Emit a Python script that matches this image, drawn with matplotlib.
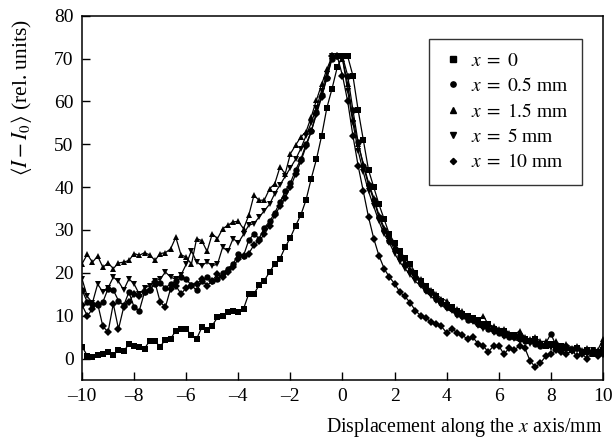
import numpy as np
import matplotlib
matplotlib.use("Agg")
import matplotlib.pyplot as plt

plt.rcParams['font.family'] = ['Liberation Serif', 'DejaVu Serif']
plt.rcParams['mathtext.fontset'] = 'stix'

# displacement grid, -10 .. 10 mm in 0.2 mm steps
disp = np.round(np.arange(-10, 10.0001, 0.2), 1)

# x = 0 (squares)
y_0 = [2.8, 0.7, 0.3, 0.9, 1.1, 1.5, 0.9, 1.9, 1.7, 3.4,
       2.9, 2.6, 2.3, 4.2, 4.0, 2.8, 4.4, 4.6, 6.5, 6.8,
       6.9, 5.4, 4.6, 7.3, 6.7, 7.7, 9.6, 10.0, 10.8, 11.2,
       10.8, 11.6, 15.1, 15.1, 17.1, 18.2, 20.2, 22.1, 23.3, 26.0,
       28.2, 31.0, 33.5, 37.0, 42.0, 46.5, 52.0, 58.5, 63.0, 68.0,
       70.5, 70.5, 66.0, 58.0, 51.0, 44.0, 40.0, 36.0, 32.5, 29.0,
       27.0, 25.0, 23.5, 22.0, 20.0, 18.0, 17.0, 15.5, 14.5, 13.5,
       12.5, 12.0, 11.0, 10.5, 10.0, 9.5, 9.0, 8.0, 8.0, 7.0,
       6.5, 6.5, 5.5, 5.5, 5.0, 4.5, 4.0, 4.5, 3.5, 3.0,
       3.5, 2.5, 3.0, 2.5, 2.0, 2.5, 1.5, 2.0, 1.0, 1.5,
       2.0]

# x = 0.5 mm (circles)
y_05 = [16.0, 13.2, 12.8, 12.4, 13.2, 16.3, 16.0, 13.5, 12.4, 15.5,
        12.0, 11.2, 15.5, 16.0, 17.4, 17.6, 16.5, 17.4, 18.0, 19.0,
        18.5, 17.1, 15.9, 18.0, 19.0, 18.2, 18.5, 20.0, 21.0, 22.0,
        24.5, 24.0, 27.6, 29.1, 28.0, 30.5, 32.0, 34.0, 36.5, 39.0,
        41.0, 44.0, 46.5, 50.0, 53.0, 57.5, 61.5, 65.5, 70.0, 70.5,
        70.5, 66.0, 58.0, 50.5, 45.0, 40.5, 37.0, 33.0, 30.0, 27.5,
        25.5, 24.0, 22.0, 20.5, 19.0, 17.5, 16.0, 15.5, 14.0, 13.0,
        12.0, 11.5, 10.5, 10.0, 9.0, 9.0, 8.0, 7.5, 7.0, 6.5,
        6.0, 5.5, 5.0, 5.0, 4.5, 4.0, 4.0, 3.5, 3.0, 3.5,
        5.8, 3.0, 2.5, 2.5, 2.0, 2.5, 1.5, 1.5, 2.0, 1.0,
        3.5]

# x = 1.5 mm (triangles up)
y_15 = [22.1, 24.3, 22.5, 23.9, 21.3, 22.3, 21.0, 22.3, 22.5, 22.9,
        24.5, 24.1, 24.7, 24.2, 22.9, 24.5, 24.7, 25.6, 28.3, 24.2,
        23.7, 22.0, 28.0, 27.5, 25.0, 29.1, 28.0, 30.3, 31.1, 31.9,
        32.0, 30.3, 33.4, 38.1, 36.9, 37.0, 39.6, 40.8, 44.7, 43.1,
        47.8, 49.8, 51.7, 52.9, 56.4, 60.3, 64.0, 67.5, 70.5, 70.5,
        70.0, 64.0, 56.0, 50.0, 45.5, 41.0, 37.5, 33.5, 30.5, 28.5,
        26.0, 24.0, 22.5, 21.0, 19.5, 18.5, 17.0, 16.0, 15.0, 14.0,
        13.5, 12.0, 11.5, 11.0, 10.0, 9.5, 8.5, 10.0, 8.0, 7.5,
        7.0, 7.0, 6.0, 5.5, 6.5, 5.0, 4.5, 5.0, 4.0, 4.0,
        3.5, 4.0, 3.0, 3.5, 2.5, 3.0, 2.0, 2.5, 1.5, 2.0,
        4.5]

# x = 5 mm (triangles down)
y_5 = [18.6, 14.5, 13.0, 17.4, 15.5, 16.5, 19.0, 18.0, 16.0, 18.6,
       17.4, 15.0, 16.5, 17.0, 18.2, 18.5, 20.2, 19.0, 18.5, 19.5,
       22.0, 25.2, 22.5, 21.7, 22.5, 21.7, 22.0, 26.0, 25.0, 28.0,
       27.0, 29.0, 31.1, 31.5, 33.0, 34.5, 36.0, 38.5, 40.5, 42.5,
       44.5, 46.5, 49.0, 52.0, 55.0, 58.5, 62.5, 66.5, 70.5, 70.5,
       70.0, 62.5, 55.0, 48.5, 43.5, 39.0, 35.5, 32.0, 29.0, 27.0,
       24.5, 22.5, 21.0, 19.5, 18.0, 17.0, 15.5, 14.5, 13.5, 12.5,
       11.5, 11.0, 10.0, 9.5, 9.0, 8.5, 7.5, 7.0, 7.0, 6.0,
       6.0, 5.0, 5.0, 4.5, 4.0, 4.5, 3.5, 3.5, 3.0, 3.0,
       2.5, 3.0, 2.0, 2.5, 1.5, 2.0, 1.5, 1.0, 2.0, 0.5,
       1.5]

# x = 10 mm (diamonds)
y_10 = [12.5, 10.0, 11.5, 12.8, 7.5, 6.2, 12.8, 6.9, 12.0, 13.2,
        15.1, 14.5, 15.5, 16.0, 17.8, 13.2, 12.0, 16.3, 17.0, 15.1,
        16.5, 17.0, 17.5, 18.5, 17.0, 18.2, 19.7, 19.0, 20.2, 21.3,
        23.3, 24.0, 24.5, 26.5, 27.5, 29.0, 31.0, 33.5, 35.5, 37.5,
        40.0, 43.0, 46.0, 49.5, 53.0, 57.0, 61.0, 65.5, 70.5, 70.5,
        66.0, 60.0, 52.0, 45.0, 39.0, 33.0, 28.0, 24.0, 21.0, 19.0,
        17.5, 15.5, 14.5, 13.0, 11.2, 10.0, 9.5, 8.5, 8.0, 7.5,
        6.0, 7.0, 6.0, 5.5, 4.5, 5.0, 3.5, 3.0, 1.5, 3.0,
        3.0, 1.0, 2.5, 2.0, 3.0, 2.5, -0.5, -2.0, -1.0, 0.5,
        1.0, 2.0, 1.5, 1.0, 2.0, 0.5, 1.0, 0.0, 1.5, 0.5,
        1.0]

series = [(y_0, 's', r'$x\;=\;0$'),
          (y_05, 'o', r'$x\;=\;0.5$ mm'),
          (y_15, '^', r'$x\;=\;1.5$ mm'),
          (y_5, 'v', r'$x\;=\;5$ mm'),
          (y_10, 'D', r'$x\;=\;10$ mm')]

fig = plt.figure(figsize=(6.14, 4.43), dpi=100)
ax = fig.add_axes([0.1336, 0.1422, 0.8484, 0.8224])

handles = []
for ys, mk, lab in series:
    ms = 3.9 if mk == 'D' else 4.6
    ax.plot(disp, ys, color='black', lw=0.9, marker=mk, ms=ms,
            markeredgewidth=0, zorder=2)
    h, = ax.plot([], [], ls='none', marker=mk, color='black',
                 ms=3.8 if mk != 'D' else 3.2, label=lab)
    handles.append(h)

ax.set_xlim(-10, 10)
ax.set_ylim(-5, 80)
ax.set_xticks(np.arange(-10, 11, 2))
ax.set_yticks(np.arange(0, 81, 10))
ax.set_xticklabels(['\u201310', '\u20138', '\u20136', '\u20134', '\u20132',
                    '0', '2', '4', '6', '8', '10'])
ax.tick_params(direction='in', length=6, width=1, labelsize=14,
               top=False, right=False, pad=6)
for s in ax.spines.values():
    s.set_linewidth(1.1)

ax.set_ylabel(r'$\langle I - I_0\rangle$ (rel. units)', fontsize=15.5, loc='top')
ax.yaxis.set_label_coords(-0.092, 0.99)
ax.set_xlabel(r'Displacement along the $x$ axis/mm', fontsize=14.3, loc='right')
ax.xaxis.labelpad = 8

leg = ax.legend(handles=handles, loc='upper right', bbox_to_anchor=(0.96, 0.937),
                fontsize=14, frameon=True, fancybox=False, handlelength=1.0,
                handletextpad=0.45, borderpad=0.7, labelspacing=0.38,
                borderaxespad=0)
leg.get_frame().set_edgecolor('black')
leg.get_frame().set_linewidth(1.0)

fig.savefig('out.png', dpi=100)
